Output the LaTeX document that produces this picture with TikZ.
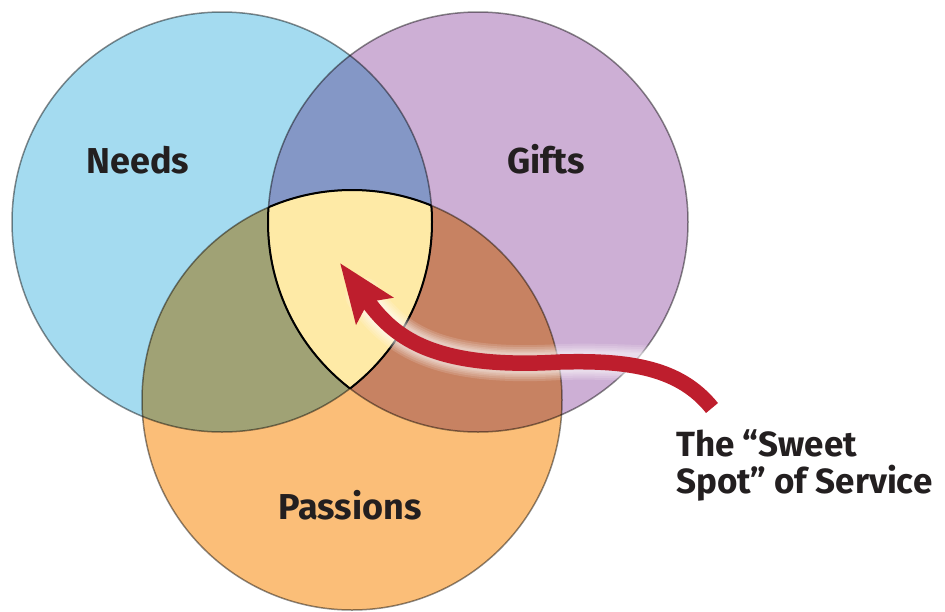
\documentclass[tikz,border=0pt]{standalone}
\usepackage{fontspec}
\setmainfont{Fira Sans}
\usetikzlibrary{arrows.meta}
\definecolor{needsblue}{HTML}{A4DBF0}
\definecolor{giftspurple}{HTML}{CDAFD5}
\definecolor{passionsorange}{HTML}{FBBE78}
\definecolor{needsgifts}{HTML}{8497C6}
\definecolor{needspassions}{HTML}{A0A275}
\definecolor{giftspassions}{HTML}{C78262}
\definecolor{sweetyellow}{HTML}{FEEAA6}
\definecolor{arrowred}{HTML}{BE1E2D}
\definecolor{labelink}{HTML}{231F20}
\begin{document}
\begin{tikzpicture}[x=1pt,y=-1pt,
    ring/.style={draw=black,draw opacity=.45,line width=1.5pt},
    sweetedge/.style={draw=black,line width=2pt},
    label/.style={font=\fontsize{36}{37}\selectfont\bfseries,text=labelink},
    pointer/.style={draw=arrowred,line width=15.5pt,-{Stealth[length=58pt,width=44pt,inset=10pt]}}]
  \useasboundingbox (0,0) rectangle (945,611);
  \def\ringr{210pt}
  \coordinate (needs) at (222,222);
  \coordinate (gifts) at (478,222);
  \coordinate (passions) at (352,400);

  % circles
  \fill[needsblue] (needs) circle (\ringr);
  \fill[giftspurple] (gifts) circle (\ringr);
  \fill[passionsorange] (passions) circle (\ringr);

  % overlaps
  \begin{scope}
    \clip (needs) circle (\ringr);
    \fill[needsgifts] (gifts) circle (\ringr);
    \fill[needspassions] (passions) circle (\ringr);
  \end{scope}
  \begin{scope}
    \clip (gifts) circle (\ringr);
    \fill[giftspassions] (passions) circle (\ringr);
  \end{scope}
  \begin{scope}
    \clip (needs) circle (\ringr);
    \clip (gifts) circle (\ringr);
    \fill[sweetyellow] (passions) circle (\ringr);
  \end{scope}

  \foreach \c in {needs,gifts,passions}
    \draw[ring] (\c) circle (\ringr);

  % sweet spot edge
  \begin{scope}
    \clip (gifts) circle (\ringr);
    \clip (passions) circle (\ringr);
    \draw[sweetedge] (needs) circle (\ringr);
  \end{scope}
  \begin{scope}
    \clip (needs) circle (\ringr);
    \clip (passions) circle (\ringr);
    \draw[sweetedge] (gifts) circle (\ringr);
  \end{scope}
  \begin{scope}
    \clip (needs) circle (\ringr);
    \clip (gifts) circle (\ringr);
    \draw[sweetedge] (passions) circle (\ringr);
  \end{scope}

  \node[label] (needslbl) at (138,160) {Needs};
  \node[label] (giftslbl) at (546,159) {Gifts};
  \node[label] (passionslbl) at (350,505) {Passions};
  \node[label,font=\fontsize{35}{37}\selectfont\bfseries,align=left,anchor=north west,inner sep=0pt]
    (spot) at (676,429) {The “Sweet\\Spot” of Service};

  % arrow
  \coordinate (tail) at (712,408);
  \coordinate (bend) at (560,362);
  \coordinate (tip) at (340,263);
  \foreach \w in {36,32,28,25,22,20}
    \draw[white,line width=\w pt,opacity=.14,line cap=round,shorten >=40pt,shorten <=60pt]
      (tail) .. controls (680,368) and (630,360) .. (bend)
      .. controls (430,370) and (392,335) .. (tip);
  \draw[pointer] (tail) .. controls (680,368) and (630,360) .. (bend)
    .. controls (430,370) and (392,335) .. (tip);
\end{tikzpicture}
\end{document}
